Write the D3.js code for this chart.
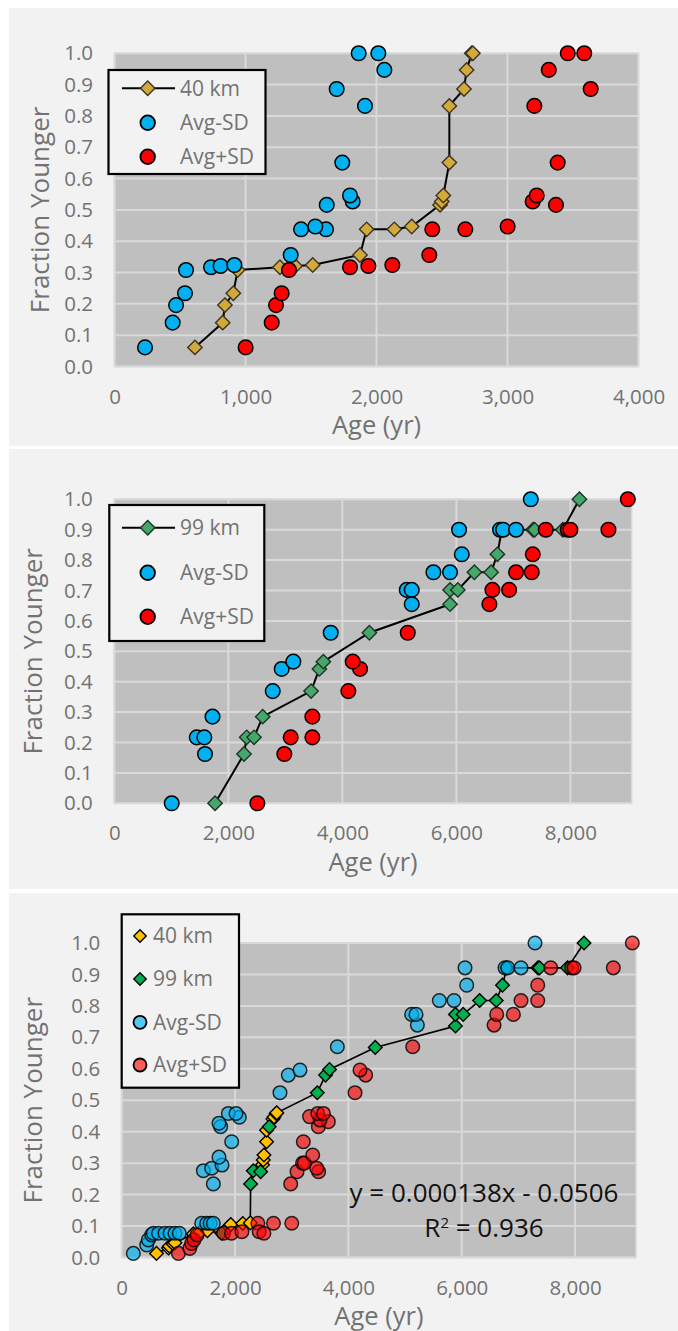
<!DOCTYPE html>
<html>
<head>
<meta charset="utf-8">
<script src="https://cdn.jsdelivr.net/npm/d3@7"></script>
<style>
  html, body { margin: 0; padding: 0; background: #ffffff; }
  svg { display: block; }
</style>
</head>
<body>
<svg id="fig" width="678" height="1331"></svg>
<script>
// ---------- data: [age (yr), fraction younger] ----------

// Panel A — 40 km
const km40 = [[614,0.061],[826,0.140],[843,0.196],[907,0.234],[940,0.308],[1263,0.317],[1378,0.321],[1513,0.324],[1874,0.356],[1925,0.438],[2136,0.438],[2269,0.447],[2485,0.516],[2498,0.527],[2510,0.546],[2556,0.651],[2556,0.832],[2668,0.886],[2688,0.947],[2727,1.0],[2736,1.0]];
const km40Minus = [[233,0.061],[444,0.140],[470,0.196],[538,0.234],[546,0.308],[737,0.317],[810,0.321],[915,0.324],[1345,0.356],[1424,0.438],[1615,0.438],[1533,0.447],[1620,0.516],[1818,0.527],[1798,0.546],[1739,0.651],[1912,0.832],[1696,0.886],[2060,0.947],[1864,1.0],[2014,1.0]];
const km40Plus = [[1001,0.061],[1200,0.140],[1233,0.196],[1276,0.234],[1332,0.308],[1798,0.317],[1938,0.321],[2121,0.324],[2403,0.356],[2426,0.438],[2678,0.438],[3001,0.447],[3370,0.516],[3192,0.527],[3223,0.546],[3383,0.651],[3205,0.832],[3635,0.886],[3315,0.947],[3460,1.0],[3586,1.0]];

// Panel B — 99 km
const km99 = [[1767,0],[2275,0.162],[2322,0.217],[2451,0.217],[2603,0.285],[3451,0.369],[3597,0.442],[3667,0.466],[4474,0.561],[5889,0.655],[5889,0.702],[6025,0.702],[6316,0.760],[6609,0.760],[6719,0.819],[6796,0.9],[7345,0.9],[7372,0.9],[7867,0.9],[8158,1.0]];
const km99Minus = [[1007,0],[1446,0.217],[1579,0.217],[1591,0.162],[1723,0.285],[2779,0.369],[2936,0.442],[3140,0.466],[3796,0.561],[5129,0.702],[5217,0.702],[5217,0.655],[5597,0.760],[5889,0.760],[6095,0.819],[6047,0.9],[6766,0.9],[6820,0.9],[7047,0.9],[7305,1.0]];
const km99Plus = [[2509,0],[2982,0.162],[3094,0.217],[3474,0.217],[3474,0.285],[4105,0.369],[4311,0.442],[4182,0.466],[5147,0.561],[6579,0.655],[6632,0.702],[6925,0.702],[7047,0.760],[7322,0.760],[7340,0.819],[7568,0.9],[7954,0.9],[8000,0.9],[8667,0.9],[9007,1.0]];

// Panel C — both distances ranked together
const allKm40 = [[614,0.013],[826,0.030],[843,0.036],[907,0.043],[940,0.047],[1263,0.075],[1378,0.080],[1513,0.085],[1874,0.095],[1925,0.105],[2136,0.108],[2269,0.110],[2485,0.295],[2498,0.310],[2510,0.326],[2556,0.368],[2556,0.405],[2668,0.440],[2688,0.447],[2727,0.458],[2736,0.460]];
const allKm99 = [[1767,0.077],[2275,0.234],[2322,0.276],[2451,0.273],[2603,0.416],[3451,0.524],[3597,0.580],[3667,0.598],[4474,0.668],[5889,0.736],[5889,0.773],[6025,0.773],[6316,0.817],[6609,0.817],[6719,0.866],[6796,0.921],[7345,0.921],[7372,0.921],[7867,0.921],[8158,1.0]];
const allMinus = [[205,0.013],[441,0.040],[470,0.056],[529,0.072],[558,0.077],[650,0.077],[764,0.077],[852,0.077],[940,0.077],[1017,0.077],[1411,0.109],[1500,0.109],[1560,0.109],[1617,0.109],[1617,0.234],[1441,0.276],[1588,0.284],[1770,0.294],[1717,0.319],[1941,0.368],[1746,0.416],[1717,0.427],[2076,0.446],[1882,0.458],[2017,0.458],[2793,0.524],[2940,0.580],[3146,0.596],[3805,0.670],[5217,0.739],[5117,0.773],[5193,0.773],[5605,0.817],[5864,0.817],[6088,0.866],[6058,0.921],[6764,0.921],[6811,0.921],[7046,0.921],[7293,1.0]];
const allPlus = [[1001,0.013],[1200,0.029],[1233,0.045],[1276,0.056],[1332,0.072],[1798,0.077],[1938,0.077],[2121,0.082],[2403,0.109],[2426,0.082],[2509,0.077],[2678,0.109],[3001,0.109],[2982,0.234],[3094,0.273],[3474,0.273],[3441,0.284],[3192,0.300],[3223,0.300],[3370,0.326],[3205,0.368],[3470,0.416],[3646,0.432],[3499,0.437],[3315,0.448],[3460,0.458],[3560,0.458],[4117,0.524],[4305,0.580],[4205,0.596],[5135,0.670],[6570,0.739],[6617,0.773],[6911,0.773],[7046,0.817],[7341,0.817],[7341,0.866],[7570,0.921],[7941,0.921],[7982,0.921],[8675,0.921],[9010,1.0]];

// Axis ticks and labels
const yTicks = [0,0.1,0.2,0.3,0.4,0.5,0.6,0.7,0.8,0.9,1.0];
const xTicksA = [0,1000,2000,3000,4000];
const xTicksBC = [0,2000,4000,6000,8000];
const xTitle = "Age (yr)";
const yTitle = "Fraction Younger";
const trendEquation = "y = 0.000138x - 0.0506";
const trendR2 = "0.936";

// ---------- drawing ----------
const svg = d3.select('#fig');
const FONT = "'Open Sans', 'Noto Sans', sans-serif";
const TXT = '#727272';

const diamondPath = (half) => d3.symbol(d3.symbolSquare, 2 * half * half)();

function drawPanel(p) {
  const g = svg.append('g');
  g.append('rect').attr('x', 9).attr('y', p.top).attr('width', 669).attr('height', p.bottom - p.top).attr('fill', '#f2f2f2');

  const x = d3.scaleLinear().domain([0, p.xMax]).range([p.l, p.r]);
  const y = d3.scaleLinear().domain([0, 1]).range([p.b, p.t]);

  // plot area and grid
  g.append('rect').attr('x', p.l).attr('y', p.t).attr('width', p.r - p.l).attr('height', p.b - p.t)
    .attr('fill', '#bfbfbf').attr('stroke', '#d9d9d9').attr('stroke-width', 1.5);
  g.append('g').selectAll('line').data(yTicks).join('line')
    .attr('x1', p.l).attr('x2', p.r).attr('y1', d => y(d)).attr('y2', d => y(d))
    .attr('stroke', '#d9d9d9').attr('stroke-width', 2);
  g.append('g').selectAll('line').data(p.xTicks).join('line')
    .attr('x1', d => x(d)).attr('x2', d => x(d)).attr('y1', p.t).attr('y2', p.b)
    .attr('stroke', '#d9d9d9').attr('stroke-width', 2);

  // axes
  const ya = g.append('g').attr('transform', `translate(${p.l},0)`)
    .call(d3.axisLeft(y).tickValues(yTicks).tickFormat(d3.format('.1f')).tickSize(0).tickPadding(21.5));
  const xa = g.append('g').attr('transform', `translate(0,${p.b})`)
    .call(d3.axisBottom(x).tickValues(p.xTicks).tickFormat(d3.format(',')).tickSize(0).tickPadding(22.5));
  [ya, xa].forEach(a => {
    a.select('.domain').remove();
    a.selectAll('text').attr('font-family', FONT).attr('font-size', 20.5).attr('fill', TXT);
  });

  // axis titles
  g.append('text').attr('x', (p.l + p.r) / 2).attr('y', p.b + 59).attr('dy', '0.35em')
    .attr('text-anchor', 'middle').attr('font-family', FONT).attr('font-size', 25.5).attr('fill', TXT).text(xTitle);
  g.append('text').attr('transform', `translate(${p.yTitleX},${(p.t + p.b) / 2}) rotate(-90)`)
    .attr('text-anchor', 'middle').attr('font-family', FONT).attr('font-size', 26).attr('fill', TXT).text(yTitle);

  const plot = g.append('g');
  const line = d3.line().x(d => x(d[0])).y(d => y(d[1]));

  p.lines.forEach(L => {
    plot.append('path').attr('d', line(L.data)).attr('fill', 'none').attr('stroke', '#000').attr('stroke-width', L.width);
  });
  p.diamonds.forEach(D => {
    plot.append('g').selectAll('path').data(D.data).join('path')
      .attr('d', diamondPath(D.half))
      .attr('transform', d => `translate(${x(d[0])},${y(d[1])}) rotate(45)`)
      .attr('fill', D.fill).attr('stroke', D.stroke).attr('stroke-width', 1.4);
  });
  p.circles.forEach(C => {
    plot.append('g').selectAll('circle').data(C.data).join('circle')
      .attr('cx', d => x(d[0])).attr('cy', d => y(d[1])).attr('r', C.r)
      .attr('fill', C.fill).attr('fill-opacity', C.opacity)
      .attr('stroke', '#000').attr('stroke-opacity', C.opacity < 1 ? 0.8 : 1).attr('stroke-width', 1.5);
  });

  // legend
  const lg = p.legend;
  const leg = g.append('g');
  leg.append('rect').attr('x', lg.x).attr('y', lg.y).attr('width', lg.w).attr('height', lg.h)
    .attr('fill', '#f2f2f2').attr('stroke', '#000').attr('stroke-width', 2.2);
  lg.items.forEach((it, i) => {
    const cy = lg.rows[i];
    if (it.line) {
      leg.append('line').attr('x1', lg.lineX[0]).attr('x2', lg.lineX[1]).attr('y1', cy).attr('y2', cy)
        .attr('stroke', '#000').attr('stroke-width', 2);
    }
    if (it.kind === 'diamond') {
      leg.append('path').attr('d', diamondPath(it.half))
        .attr('transform', `translate(${lg.markX},${cy}) rotate(45)`)
        .attr('fill', it.fill).attr('stroke', it.stroke).attr('stroke-width', 1.4);
    } else {
      leg.append('circle').attr('cx', lg.markX).attr('cy', cy).attr('r', it.r)
        .attr('fill', it.fill).attr('fill-opacity', it.opacity).attr('stroke', '#000').attr('stroke-width', 1.8);
    }
    leg.append('text').attr('x', lg.textX).attr('y', cy).attr('dy', '0.35em')
      .attr('font-family', FONT).attr('font-size', 21).attr('fill', TXT).text(it.label);
  });

  return { g, x, y };
}

const GOLD_A = '#d2aa3c', GOLD_A_EDGE = '#3d3420';
const GREEN_B = '#45a86a', GREEN_B_EDGE = '#1e3326';
const BLUE = '#00b0f0', RED = '#ff0000';

// Panel A
drawPanel({
  top: 8, bottom: 446, l: 114.5, r: 638.5, t: 53.3, b: 366.5, xMax: 4000, xTicks: xTicksA, yTitleX: 49,
  lines: [{ data: km40, width: 2 }],
  diamonds: [{ data: km40, half: 7.2, fill: GOLD_A, stroke: GOLD_A_EDGE }],
  circles: [
    { data: km40Minus, r: 7.3, fill: BLUE, opacity: 1 },
    { data: km40Plus, r: 7.3, fill: RED, opacity: 1 }
  ],
  legend: {
    x: 108.5, y: 70, w: 157, h: 104, rows: [88.3, 122.7, 156.7], markX: 147.7, textX: 180, lineX: [122, 175],
    items: [
      { label: '40 km', kind: 'diamond', line: true, half: 7.2, fill: GOLD_A, stroke: GOLD_A_EDGE },
      { label: 'Avg-SD', kind: 'circle', r: 7.3, fill: BLUE, opacity: 1 },
      { label: 'Avg+SD', kind: 'circle', r: 7.3, fill: RED, opacity: 1 }
    ]
  }
});

// Panel B
drawPanel({
  top: 449, bottom: 889, l: 114.3, r: 631.7, t: 499.3, b: 803.3, xMax: 9075, xTicks: xTicksBC, yTitleX: 42,
  lines: [{ data: km99, width: 2 }],
  diamonds: [{ data: km99, half: 7.2, fill: GREEN_B, stroke: GREEN_B_EDGE }],
  circles: [
    { data: km99Minus, r: 7.3, fill: BLUE, opacity: 1 },
    { data: km99Plus, r: 7.3, fill: RED, opacity: 1 }
  ],
  legend: {
    x: 109.3, y: 505, w: 155, h: 136, rows: [527.7, 572.7, 616.7], markX: 147.7, textX: 180, lineX: [122, 175],
    items: [
      { label: '99 km', kind: 'diamond', line: true, half: 7.2, fill: GREEN_B, stroke: GREEN_B_EDGE },
      { label: 'Avg-SD', kind: 'circle', r: 7.3, fill: BLUE, opacity: 1 },
      { label: 'Avg+SD', kind: 'circle', r: 7.3, fill: RED, opacity: 1 }
    ]
  }
});

// Panel C: both distances, joined by one line in age order
const combined = allKm40.concat(allKm99).sort((a, b) => a[0] - b[0]);
const pc = drawPanel({
  top: 893, bottom: 1331, l: 121.7, r: 636, t: 943, b: 1257.5, xMax: 9075, xTicks: xTicksBC, yTitleX: 42,
  lines: [{ data: combined, width: 1.6 }],
  diamonds: [
    { data: allKm40, half: 6.8, fill: '#ffc000', stroke: '#000' },
    { data: allKm99, half: 6.8, fill: '#00b050', stroke: '#000' }
  ],
  circles: [
    { data: allMinus, r: 6.8, fill: BLUE, opacity: 0.65 },
    { data: allPlus, r: 6.8, fill: RED, opacity: 0.62 }
  ],
  legend: {
    x: 121.7, y: 914.3, w: 117.3, h: 173.4, rows: [936, 979, 1022.3, 1065], markX: 140, textX: 153, lineX: [0, 0],
    items: [
      { label: '40 km', kind: 'diamond', half: 6.2, fill: '#ffc000', stroke: '#000' },
      { label: '99 km', kind: 'diamond', half: 6.2, fill: '#00b050', stroke: '#000' },
      { label: 'Avg-SD', kind: 'circle', r: 6.5, fill: BLUE, opacity: 0.65 },
      { label: 'Avg+SD', kind: 'circle', r: 6.5, fill: RED, opacity: 0.62 }
    ]
  }
});

// trend-line equation for panel C
const eqX = 484;
pc.g.append('text').attr('x', eqX).attr('y', 1193).attr('dy', '0.35em').attr('text-anchor', 'middle')
  .attr('font-family', FONT).attr('font-size', 26).attr('fill', '#111').text(trendEquation);
const r2 = pc.g.append('text').attr('x', eqX).attr('y', 1228).attr('dy', '0.35em').attr('text-anchor', 'middle')
  .attr('font-family', FONT).attr('font-size', 26).attr('fill', '#111');
r2.append('tspan').text('R');
r2.append('tspan').attr('font-size', 15).attr('dy', '-0.6em').text('2');
r2.append('tspan').attr('dy', '0.35em').text(' = ' + trendR2);
</script>
</body>
</html>
